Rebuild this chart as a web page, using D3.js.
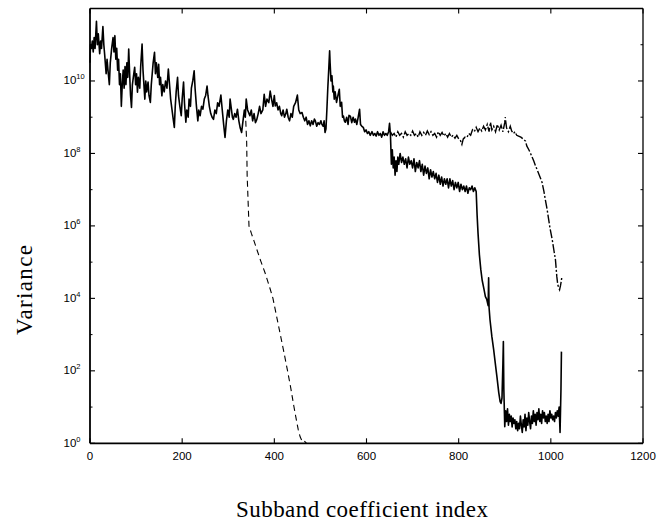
<!DOCTYPE html>
<html>
<head>
<meta charset="utf-8">
<script src="https://cdn.jsdelivr.net/npm/d3@7"></script>
<style>
  body { margin: 0; background: #fff; }
  svg { display: block; }
  .tick-label { font-family: "Liberation Sans", Arial, sans-serif; font-size: 11.5px; fill: #000; }
  .axis-title { font-family: "Liberation Serif", "Times New Roman", serif; font-size: 23px; fill: #000; }
</style>
</head>
<body>
<svg id="chart" width="666" height="522"></svg>
<script>
// x ticks and y decade ticks
const xTicks = [0, 200, 400, 600, 800, 1000, 1200];
const yDecades = [0, 2, 4, 6, 8, 10];
const yMinorDecades = [1, 3, 5, 7, 9, 11];

// curves: [subband coefficient index, log10(variance)]
const solidCurve = [
  [0,10.5],[1,11.0],[3,10.9],[5,11.1],[7,10.8],[9,11.2],[11,10.9],[14,11.65],[16,11.0],[18,11.3],
  [21,10.75],[23,11.1],[25,10.9],[28,11.5],[30,11.0],[32,10.7],[35,10.2],[37,10.6],[39,10.3],[42,9.9],
  [44,10.5],[47,10.9],[50,11.2],[52,10.8],[54,11.25],[56,10.6],[58,10.9],[60,10.3],[62,10.6],[64,9.9],
  [66,10.2],[68,9.3],[70,9.9],[72,10.3],[74,9.8],[76,10.4],[78,9.9],[80,10.5],[82,10.1],[84,10.88],
  [86,10.2],[88,9.6],[90,9.27],[92,9.9],[94,10.1],[97,10.38],[99,9.9],[101,10.2],[103,9.69],[105,10.1],
  [108,9.8],[110,10.4],[113,11.02],[115,10.3],[117,9.9],[119,9.5],[121,10.0],[123,9.7],[126,9.97],[128,9.6],
  [131,9.41],[133,9.9],[135,10.2],[137,10.5],[140,10.79],[142,10.2],[144,10.5],[147,10.1],[149,10.46],[151,9.9],
  [153,10.1],[156,9.59],[158,9.9],[161,9.7],[164,10.0],[167,9.8],[170,10.33],[172,10.0],[175,9.5],[178,9.2],
  [180,9.0],[183,8.72],[185,9.3],[187,9.7],[190,10.1],[192,9.6],[195,9.3],[198,9.04],[200,9.5],[203,9.97],
  [205,9.4],[208,8.86],[210,9.2],[213,9.0],[215,9.5],[218,9.3],[220,9.8],[223,10.0],[226,10.28],[228,9.8],
  [231,9.3],[234,8.9],[236,9.2],[239,9.04],[242,9.3],[245,9.22],[248,9.5],[251,9.6],[254,9.86],[256,9.6],
  [259,9.3],[262,9.1],[265,9.0],[268,8.94],[271,9.2],[274,9.1],[277,9.4],[280,9.3],[284,9.61],[287,9.2],
  [290,8.8],[293,8.44],[296,8.9],[299,9.2],[302,9.0],[304,9.5],[307,9.2],[309,9.0],[311,8.94],[314,9.1],
  [317,9.0],[320,9.22],[323,8.9],[326,8.7],[329,8.58],[332,8.9],[335,9.2],[337,9.0],[339,9.5],[342,9.2],
  [345,9.1],[347,9.04],[350,9.2],[353,8.9],[356,9.1],[359,8.85],[362,8.94],[365,9.1],[368,9.3],[371,9.1],
  [375,9.2],[378,9.63],[381,9.3],[384,9.5],[388,9.4],[391,9.72],[394,9.5],[397,9.3],[400,9.6],[402,9.31],
  [405,9.4],[408,9.2],[411,9.3],[414,9.1],[416,9.04],[419,9.2],[422,9.0],[425,9.1],[427,9.22],[430,9.0],
  [433,8.9],[436,9.1],[439,9.0],[442,9.3],[446,9.4],[450,9.61],[453,9.2],[456,9.1],[460,9.13],[463,9.0],
  [466,8.9],[469,9.0],[472,8.8],[475,8.9],[478,8.76],[481,8.9],[484,8.8],[487,8.95],[489,8.9],[492,8.75],
  [495,8.85],[498,8.8],[501,8.9],[503,8.81],[506,8.75],[508,8.9],[510,8.58],[512,8.67],[514,9.2],[516,9.8],
  [518,10.3],[520,10.83],[521,10.5],[523,10.0],[525,10.14],[527,9.7],[528,9.86],[530,9.5],[532,9.7],[535,9.41],
  [538,9.6],[541,9.77],[543,9.3],[546,9.41],[548,9.0],[550,9.03],[552,8.9],[554,8.86],[557,9.0],[560,8.8],
  [562,9.05],[565,9.03],[568,8.85],[571,9.0],[574,8.86],[576,8.95],[579,8.8],[582,9.0],[585,9.22],[587,8.8],
  [590,8.75],[593,8.72],[596,8.6],[599,8.65],[602,8.55],[605,8.6],[608,8.5],[612,8.6],[615,8.5],[618,8.55],
  [621,8.48],[624,8.6],[627,8.5],[630,8.55],[633,8.45],[636,8.6],[639,8.5],[642,8.55],[645,8.5],[648,8.6],
  [650,8.83],[652,8.5],[654,7.7],[656,8.1],[658,7.6],[660,7.9],[662,7.4],[664,7.8],[666,7.5],[668,7.9],
  [670,7.7],[673,8.0],[676,7.75],[679,7.9],[682,7.7],[685,7.85],[688,7.6],[691,7.9],[694,7.7],[697,7.8],
  [700,7.6],[703,7.85],[706,7.5],[709,7.75],[712,7.6],[715,7.8],[718,7.5],[721,7.7],[724,7.4],[727,7.65],
  [730,7.45],[733,7.6],[736,7.3],[739,7.55],[742,7.35],[745,7.5],[748,7.3],[751,7.45],[754,7.2],[757,7.4],
  [760,7.15],[763,7.35],[766,7.1],[769,7.3],[772,7.15],[775,7.3],[778,7.05],[781,7.3],[784,7.1],[787,7.25],
  [790,7.0],[793,7.2],[796,7.05],[799,7.2],[802,6.95],[805,7.15],[808,7.0],[811,7.1],[814,6.95],[817,7.1],
  [820,6.9],[823,7.05],[826,7.0],[829,7.1],[832,6.95],[835,7.05],[838,6.95],[840,6.3],[842,5.8],[845,5.2],
  [848,4.8],[851,4.5],[855,4.25],[858,4.05],[861,3.97],[864,3.8],[865,4.57],[866,3.74],[868,3.41],[872,2.95],
  [876,2.58],[880,2.15],[883,1.84],[887,1.4],[890,1.15],[892,1.1],[894,1.25],[896,2.2],[897,2.81],[898,1.5],
  [900,0.46],[902,0.9],[904,0.6],[906,0.95],[908,0.5],[910,0.8],[912,0.6],[914,0.75],[916,0.45],[918,0.7],
  [920,0.55],[922,0.65],[924,0.4],[926,0.6],[928,0.35],[930,0.55],[932,0.4],[934,0.75],[936,0.5],[938,0.3],
  [940,0.65],[942,0.45],[944,0.8],[946,0.35],[948,0.7],[950,0.5],[952,0.85],[954,0.6],[956,0.4],[958,0.75],
  [960,0.55],[962,0.9],[964,0.6],[966,0.8],[968,0.5],[970,0.85],[972,0.65],[974,0.95],[976,0.6],[978,0.8],
  [980,0.55],[982,0.9],[984,0.7],[986,0.85],[988,0.6],[990,0.75],[992,0.55],[994,0.8],[996,0.6],[998,0.9],
  [1000,0.7],[1002,0.8],[1004,0.65],[1006,0.75],[1008,0.6],[1010,0.85],[1012,0.7],[1014,0.9],[1016,0.75],[1018,1.0],
  [1020,0.3],[1022,1.5],[1023,2.53]
];

const dashedCurve = [
  [338,8.9],[340,8.3],[341,7.4],[343,6.7],[345,6.0],[350,5.8],[356,5.58],[362,5.35],[370,5.05],[380,4.7],
  [390,4.3],[397,4.0],[405,3.5],[413,3.0],[421,2.5],[429,1.98],[436,1.5],[442,1.05],[447,0.7],[452,0.37],
  [456,0.18],[460,0.07],[463,0.03],[466,0.05],[470,0.0]
];

const dashDotCurve = [
  [652,8.6],[656,8.5],[660,8.55],[664,8.45],[668,8.6],[672,8.5],[676,8.55],[680,8.45],[684,8.6],[688,8.5],
  [692,8.55],[696,8.5],[700,8.62],[704,8.5],[708,8.55],[712,8.45],[716,8.6],[720,8.5],[724,8.58],[728,8.5],
  [732,8.62],[736,8.52],[740,8.6],[744,8.5],[748,8.55],[752,8.45],[756,8.6],[760,8.5],[764,8.58],[768,8.48],
  [772,8.55],[776,8.45],[780,8.55],[784,8.45],[788,8.5],[792,8.42],[796,8.5],[800,8.4],[804,8.35],[807,8.25],
  [810,8.4],[814,8.45],[818,8.44],[822,8.55],[826,8.5],[830,8.65],[834,8.6],[838,8.72],[842,8.6],[846,8.7],
  [850,8.62],[854,8.75],[858,8.65],[862,8.8],[866,8.6],[869,8.86],[872,8.65],[876,8.75],[880,8.6],[884,8.8],
  [888,8.65],[892,8.78],[896,8.6],[900,8.85],[901,9.0],[904,8.7],[908,8.6],[912,8.75],[915,8.62],[919,8.55],
  [922,8.6],[926,8.5],[930,8.48],[935,8.45],[940,8.4],[945,8.34],[948,8.2],[952,8.11],[956,8.0],[960,7.88],
  [963,7.79],[967,7.65],[970,7.56],[975,7.4],[978,7.3],[981,7.2],[985,6.95],[988,6.73],[992,6.45],[995,6.2],
  [998,5.95],[1001,5.75],[1003,5.62],[1007,5.3],[1010,5.07],[1013,4.6],[1015,4.38],[1017,4.3],[1019,4.24],[1021,4.35],
  [1023,4.5],[1024,4.61]
];

const svg = d3.select('#chart');
const plot = {left: 90, right: 643, top: 8.5, bottom: 443.3};

let xScale = d3.scaleLinear().domain([0, 1200]).range([plot.left, plot.right]);
let yScale = d3.scaleLog().domain([1, 1e12]).range([plot.bottom, plot.top]);

// Curves
let line = d3.line()
  .x(d => xScale(d[0]))
  .y(d => yScale(Math.pow(10, d[1])));

let curveGroup = svg.append('g').attr('class', 'curves');

curveGroup.append('path')
  .datum(dashedCurve)
  .attr('d', line)
  .style('fill', 'none')
  .style('stroke', '#000')
  .style('stroke-width', 1.1)
  .style('stroke-dasharray', '6,4');

curveGroup.append('path')
  .datum(dashDotCurve)
  .attr('d', line)
  .style('fill', 'none')
  .style('stroke', '#000')
  .style('stroke-width', 1.4)
  .style('stroke-dasharray', '9,2,2,2');

curveGroup.append('path')
  .datum(solidCurve)
  .attr('d', line)
  .style('fill', 'none')
  .style('stroke', '#000')
  .style('stroke-width', 1.6)
  .style('stroke-linejoin', 'round');

// Frame
let frame = svg.append('g').attr('class', 'frame');
frame.append('line')
  .attr('x1', plot.left).attr('x2', plot.right)
  .attr('y1', plot.top).attr('y2', plot.top)
  .style('stroke', '#000').style('stroke-width', 1.3);
frame.append('line')
  .attr('x1', plot.right).attr('x2', plot.right)
  .attr('y1', plot.top).attr('y2', plot.bottom)
  .style('stroke', '#000').style('stroke-width', 1.3);
frame.append('line')
  .attr('x1', plot.left).attr('x2', plot.right)
  .attr('y1', plot.bottom).attr('y2', plot.bottom)
  .style('stroke', '#000').style('stroke-width', 1.8);
frame.append('line')
  .attr('x1', plot.left).attr('x2', plot.left)
  .attr('y1', plot.top).attr('y2', plot.bottom)
  .style('stroke', '#000').style('stroke-width', 1.8);

// X ticks (inside, bottom and top)
let xTickGroup = svg.append('g').attr('class', 'x-ticks');
xTickGroup.selectAll('line.bottom')
  .data(xTicks)
  .join('line')
  .attr('class', 'bottom')
  .attr('x1', d => xScale(d)).attr('x2', d => xScale(d))
  .attr('y1', plot.bottom).attr('y2', plot.bottom - 5)
  .style('stroke', '#000').style('stroke-width', 1.1);
xTickGroup.selectAll('line.top')
  .data(xTicks)
  .join('line')
  .attr('class', 'top')
  .attr('x1', d => xScale(d)).attr('x2', d => xScale(d))
  .attr('y1', plot.top).attr('y2', plot.top + 5)
  .style('stroke', '#000').style('stroke-width', 1.1);
xTickGroup.selectAll('text')
  .data(xTicks)
  .join('text')
  .attr('class', 'tick-label')
  .attr('x', d => xScale(d))
  .attr('y', 460)
  .style('text-anchor', 'middle')
  .text(d => d);

// Y ticks (inside, left and right), major at even decades, minor at odd
let yTickGroup = svg.append('g').attr('class', 'y-ticks');
[[plot.left, 1], [plot.right, -1]].forEach(([x0, dir]) => {
  yTickGroup.append('g')
    .selectAll('line')
    .data(yDecades)
    .join('line')
    .attr('x1', x0).attr('x2', x0 + dir * 5)
    .attr('y1', d => yScale(Math.pow(10, d))).attr('y2', d => yScale(Math.pow(10, d)))
    .style('stroke', '#000').style('stroke-width', 1.1);
  yTickGroup.append('g')
    .selectAll('line')
    .data(yMinorDecades)
    .join('line')
    .attr('x1', x0).attr('x2', x0 + dir * 2.5)
    .attr('y1', d => yScale(Math.pow(10, d))).attr('y2', d => yScale(Math.pow(10, d)))
    .style('stroke', '#000').style('stroke-width', 1);
});

let yLabels = yTickGroup.append('g')
  .selectAll('text')
  .data(yDecades)
  .join('text')
  .attr('class', 'tick-label')
  .attr('x', 63.5)
  .attr('y', d => yScale(Math.pow(10, d)) + 3.5);
yLabels.append('tspan').text('10');
yLabels.append('tspan')
  .attr('dy', -5)
  .style('font-size', '7.5px')
  .text(d => d);

// Axis titles
svg.append('text')
  .attr('class', 'axis-title')
  .attr('x', 362)
  .attr('y', 517)
  .attr('textLength', 252)
  .attr('lengthAdjust', 'spacing')
  .style('text-anchor', 'middle')
  .text('Subband coefficient index');

svg.append('text')
  .attr('class', 'axis-title')
  .attr('transform', 'translate(31.5, 290) rotate(-90)')
  .attr('textLength', 90)
  .attr('lengthAdjust', 'spacing')
  .style('text-anchor', 'middle')
  .text('Variance');
</script>
</body>
</html>
